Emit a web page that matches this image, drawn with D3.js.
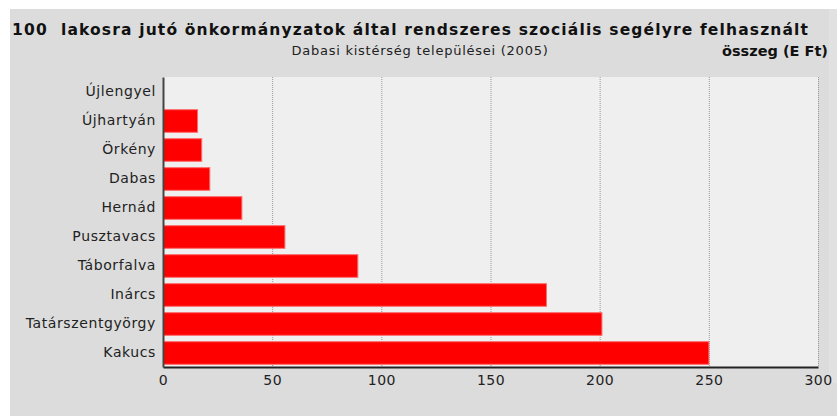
<!DOCTYPE html>
<html>
<head>
<meta charset="utf-8">
<script src="https://cdn.jsdelivr.net/npm/d3@7"></script>
<style>
  body { margin: 0; background: #fff; }
  svg { display: block; font-family: "DejaVu Sans", sans-serif; }
</style>
</head>
<body>
<svg id="chart"></svg>
<script>
// települések, felülről lefelé
const towns = ['Újlengyel', 'Újhartyán', 'Örkény', 'Dabas', 'Hernád', 'Pusztavacs',
  'Táborfalva', 'Inárcs', 'Tatárszentgyörgy', 'Kakucs']
// E Ft / 100 lakos
const values = [0, 15.6, 17.5, 21.2, 35.9, 55.6, 89, 175.4, 200.8, 249.8]
const xTicks = [0, 50, 100, 150, 200, 250, 300]

const width = 837, height = 416
const m = { top: 77, right: 19, bottom: 49, left: 163 }

const svg = d3.select('#chart')
  .attr('width', width)
  .attr('height', height)

// grey panel
svg.append('rect')
  .attr('x', 10).attr('y', 9)
  .attr('width', width - 10).attr('height', height - 9)
  .attr('fill', '#dcdcdc')
svg.append('rect')
  .attr('x', 829).attr('y', 9)
  .attr('width', 8).attr('height', 374)
  .attr('fill', '#e1e1e1')

const x = d3.scaleLinear()
  .domain([0, 300])
  .range([m.left, width - m.right])

const y = d3.scaleBand()
  .domain(towns)
  .range([m.top, height - m.bottom])
  .paddingInner(0.22)
  .paddingOuter(0.11)

// plot background
svg.append('rect')
  .attr('x', x(0)).attr('y', m.top)
  .attr('width', x(300) - x(0)).attr('height', height - m.bottom - m.top)
  .attr('fill', '#efefef')

// dotted gridlines
svg.append('g')
  .selectAll('line')
  .data(xTicks.slice(1))
  .join('line')
  .attr('x1', d => x(d) + 0.5).attr('x2', d => x(d) + 0.5)
  .attr('y1', m.top).attr('y2', height - m.bottom)
  .attr('stroke', '#999')
  .attr('stroke-dasharray', '1,1')

// bars
svg.append('g')
  .selectAll('rect')
  .data(values)
  .join('rect')
  .attr('x', x(0) + 0.5)
  .attr('y', (d, i) => y(towns[i]) + 0.5)
  .attr('width', d => Math.max(0, x(d) - x(0)))
  .attr('height', y.bandwidth())
  .attr('fill', d => d > 0 ? '#ff0000' : 'none')
  .attr('stroke', d => d > 0 ? '#ff6a6a' : 'none')
  .attr('stroke-width', 1)

// axes
const xAxis = svg.append('g')
  .attr('transform', `translate(0,${height - m.bottom})`)
  .call(d3.axisBottom(x).tickValues(xTicks).tickSize(0).tickPadding(8))
xAxis.select('.domain').attr('stroke', '#222').attr('stroke-width', 2)
xAxis.selectAll('text')
  .attr('font-size', 14)
  .attr('letter-spacing', 0.5)
  .attr('font-family', '"DejaVu Sans", sans-serif')
  .attr('fill', '#222')

const yAxis = svg.append('g')
  .attr('transform', `translate(${m.left},0)`)
  .call(d3.axisLeft(y).tickSize(0).tickPadding(7))
yAxis.select('.domain').attr('stroke', '#444').attr('stroke-width', 2)
yAxis.selectAll('text')
  .attr('font-size', 14)
  .attr('letter-spacing', 0.6)
  .attr('font-family', '"DejaVu Sans", sans-serif')
  .attr('fill', '#222')

// titles
svg.append('text')
  .attr('x', 12).attr('y', 35)
  .attr('font-size', 15.5)
  .attr('font-weight', 'bold')
  .attr('textLength', 796)
  .attr('fill', '#111')
  .style('white-space', 'pre')
  .text('100  lakosra jutó önkormányzatok által rendszeres szociális segélyre felhasznált')

svg.append('text')
  .attr('x', 828).attr('y', 56)
  .attr('text-anchor', 'end')
  .attr('font-size', 14.5)
  .attr('font-weight', 'bold')
  .attr('fill', '#111')
  .text('összeg (E Ft)')

svg.append('text')
  .attr('x', 420).attr('y', 55)
  .attr('text-anchor', 'middle')
  .attr('font-size', 13)
  .attr('letter-spacing', 0.75)
  .attr('fill', '#222')
  .text('Dabasi kistérség települései (2005)')
</script>
</body>
</html>
